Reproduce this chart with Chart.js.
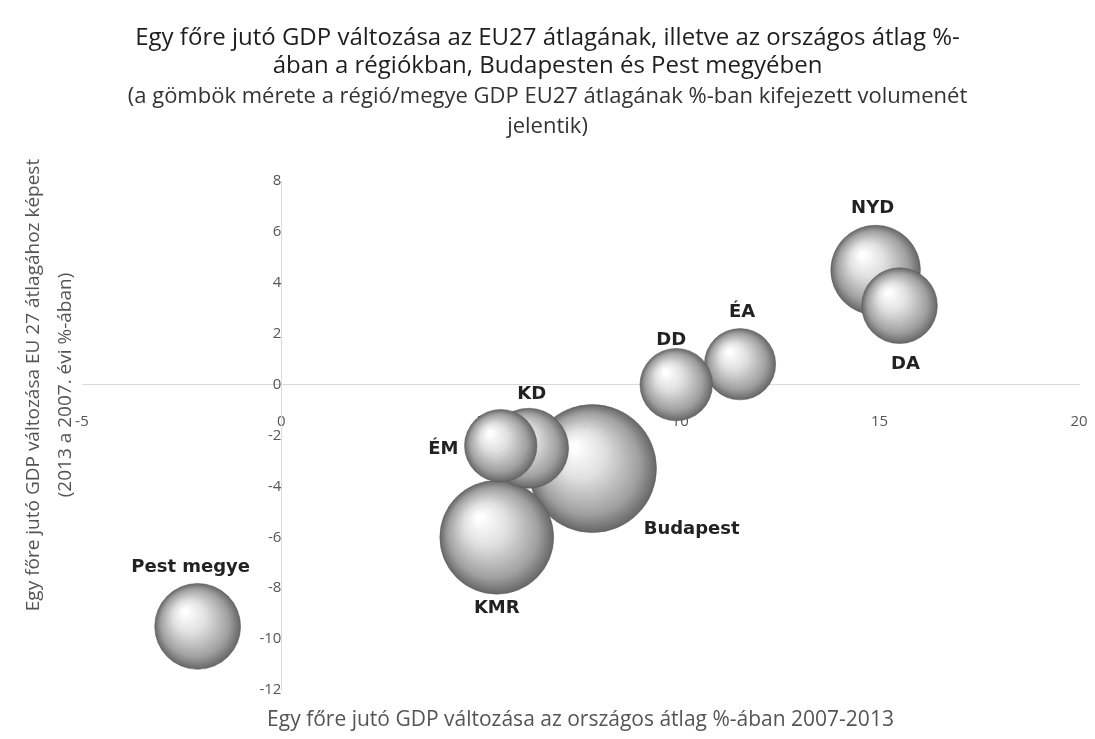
<!DOCTYPE html>
<html lang="hu">
<head>
<meta charset="UTF-8">
<title>Egy főre jutó GDP változása – régiók</title>
<script src="https://cdn.jsdelivr.net/npm/chart.js"></script>
<style>
    html, body { margin: 0; padding: 0; background: #fff; }
    .chart-container { width: 1095px; height: 739px; }
</style>
</head>
<body>
<div class="chart-container"><canvas id="gdpChart"></canvas></div>
<script>
    // régiók / megyék (rajzolási sorrendben: elöl lévő gömbök később)
    const regiok = ['Budapest', 'KMR', 'KD', 'ÉM', 'NYD', 'DA', 'ÉA', 'DD', 'Pest megye'];
    // X: egy főre jutó GDP változása az országos átlag %-ában 2007-2013
    const orszagosValtozas = [7.8, 5.4, 6.2, 5.5, 14.9, 15.5, 11.5, 9.9, -2.1];
    // Y: egy főre jutó GDP változása EU27 átlagához képest (2013 a 2007. évi %-ában)
    const euValtozas = [-3.3, -6.0, -2.5, -2.4, 4.5, 3.1, 0.8, 0.0, -9.5];
    // gömbméret: GDP volumen EU27 átlag %-ában (relatív, a képről becsülve)
    const volumen = [100, 79, 39, 32, 49, 35, 31, 32, 45];

    const xTicks = [-5, 0, 5, 10, 15, 20];
    const yTicks = [-12, -10, -8, -6, -4, -2, 0, 2, 4, 6, 8];

    const cimSorok = ['Egy főre jutó GDP változása az EU27 átlagának, illetve az országos átlag %-',
                      'ában a régiókban, Budapesten és Pest megyében'];
    const alcimSorok = ['(a gömbök mérete a régió/megye GDP EU27 átlagának %-ban kifejezett volumenét',
                        'jelentik)'];

    const MAX_R = 64;
    const maxVol = Math.max(...volumen);
    const sugar = v => MAX_R * Math.sqrt(v / maxVol);

    const pontok = regiok.map((nev, i) => ({
        x: orszagosValtozas[i], y: euValtozas[i], r: sugar(volumen[i]), nev: nev
    }));

    // címkék helye a gömbhöz képest
    const cimkeHely = {
        'NYD':        { pos: 'top', gap: 17, dx: -3 },
        'DA':         { pos: 'bottom', gap: 21, dx: 6 },
        'ÉA':         { pos: 'top', gap: 16, dx: 2 },
        'DD':         { pos: 'top', gap: 8, dx: -5 },
        'KD':         { pos: 'top', gap: 14, dx: 3 },
        'ÉM':         { pos: 'left', gap: 6, dy: 4 },
        'Budapest':   { pos: 'diag' },
        'KMR':        { pos: 'bottom', gap: 14, dx: 0 },
        'Pest megye': { pos: 'top', gap: 16, dx: -7 }
    };

    function gombSzin(ctx) {
        const chart = ctx.chart;
        if (!chart.chartArea || ctx.type !== 'data') return '#b0b0b0';
        const cx = chart.scales.x.getPixelForValue(ctx.raw.x);
        const cy = chart.scales.y.getPixelForValue(ctx.raw.y);
        const r = ctx.raw.r;
        const g = chart.ctx.createRadialGradient(cx - r * 0.3, cy - r * 0.35, r * 0.05, cx, cy, r);
        g.addColorStop(0, '#ffffff');
        g.addColorStop(0.35, '#e0e0e0');
        g.addColorStop(0.78, '#a0a0a0');
        g.addColorStop(1, '#666666');
        return g;
    }

    // a középre tett tengelyek ne foglaljanak helyet
    const nullaMeret = s => {
        s.paddingLeft = s.paddingRight = s.paddingTop = s.paddingBottom = 0;
        if (s.isHorizontal()) s.height = 0; else s.width = 0;
    };

    const cimkek = {
        id: 'cimkek',
        afterDatasetsDraw(chart) {
            const ctx = chart.ctx;
            const meta = chart.getDatasetMeta(0);
            ctx.save();
            ctx.font = 'bold 18px "DejaVu Sans"';
            ctx.fillStyle = '#222';
            ctx.textBaseline = 'middle';
            meta.data.forEach((el, i) => {
                const p = pontok[i];
                const h = cimkeHely[p.nev];
                const r = p.r;
                let x = el.x, y = el.y;
                ctx.textAlign = 'center';
                if (h.pos === 'top') { x += h.dx || 0; y -= r + h.gap; }
                else if (h.pos === 'bottom') { x += h.dx || 0; y += r + h.gap; }
                else if (h.pos === 'left') { ctx.textAlign = 'right'; x -= r + h.gap; y += h.dy || 0; }
                else if (h.pos === 'diag') { ctx.textAlign = 'left'; x += r * 0.8; y += r * 0.95; }
                ctx.fillText(p.nev, x, y);
            });
            ctx.restore();
        }
    };

    const feliratok = {
        id: 'feliratok',
        afterDraw(chart) {
            const ctx = chart.ctx;
            const a = chart.chartArea;
            const kozep = chart.width / 2;
            ctx.save();
            ctx.textAlign = 'center';
            ctx.textBaseline = 'middle';
            // cím
            ctx.fillStyle = '#1e1e1e';
            ctx.font = '24px "Open Sans"';
            cimSorok.forEach((s, i) => ctx.fillText(s, kozep, 38 + i * 28));
            ctx.fillStyle = '#333';
            ctx.font = '22px "Open Sans"';
            alcimSorok.forEach((s, i) => ctx.fillText(s, kozep, 97 + i * 30));
            // tengelycímek
            ctx.fillStyle = '#555';
            ctx.font = '21px "Open Sans"';
            ctx.fillText('Egy főre jutó GDP változása az országos átlag %-ában 2007-2013', (a.left + a.right) / 2, 720);
            ctx.translate(0, 385);
            ctx.rotate(-Math.PI / 2);
            ctx.font = '19px "Open Sans"';
            ctx.fillText('Egy főre jutó GDP változása EU 27 átlagához képest', 0, 34);
            ctx.fillText('(2013 a 2007. évi %-ában)', 0, 66);
            ctx.restore();
        }
    };

    const gdpChart = new Chart(document.getElementById('gdpChart').getContext('2d'), {
        type: 'bubble',
        data: {
            datasets: [{
                label: 'GDP',
                data: pontok,
                backgroundColor: gombSzin,
                borderColor: 'rgba(90,90,90,0.55)',
                borderWidth: 1
            }]
        },
        options: {
            responsive: true,
            maintainAspectRatio: false,
            animation: false,
            events: [],
            layout: { autoPadding: false, padding: { left: 82, right: 16, top: 181, bottom: 49 } },
            plugins: {
                legend: { display: false },
                tooltip: { enabled: false },
                title: { display: false }
            },
            scales: {
                x: {
                    type: 'linear',
                    position: { y: 0 },
                    min: -5, max: 20,
                    afterBuildTicks: s => { s.ticks = xTicks.map(v => ({ value: v })); },
                    afterFit: nullaMeret,
                    grid: { display: false, drawTicks: false },
                    border: { display: true, color: '#dadada', dash: [1, 5] },
                    ticks: { font: { family: 'Open Sans', size: 15 }, color: '#555', padding: 28 }
                },
                y: {
                    type: 'linear',
                    position: { x: 0 },
                    min: -12, max: 8,
                    afterBuildTicks: s => { s.ticks = yTicks.map(v => ({ value: v })); },
                    afterFit: nullaMeret,
                    grid: { display: false, drawTicks: false },
                    border: { display: true, color: '#dadada', dash: [1, 5] },
                    ticks: { font: { family: 'Open Sans', size: 15 }, color: '#555', padding: 15 }
                }
            }
        },
        plugins: [cimkek, feliratok]
    });
</script>
</body>
</html>
